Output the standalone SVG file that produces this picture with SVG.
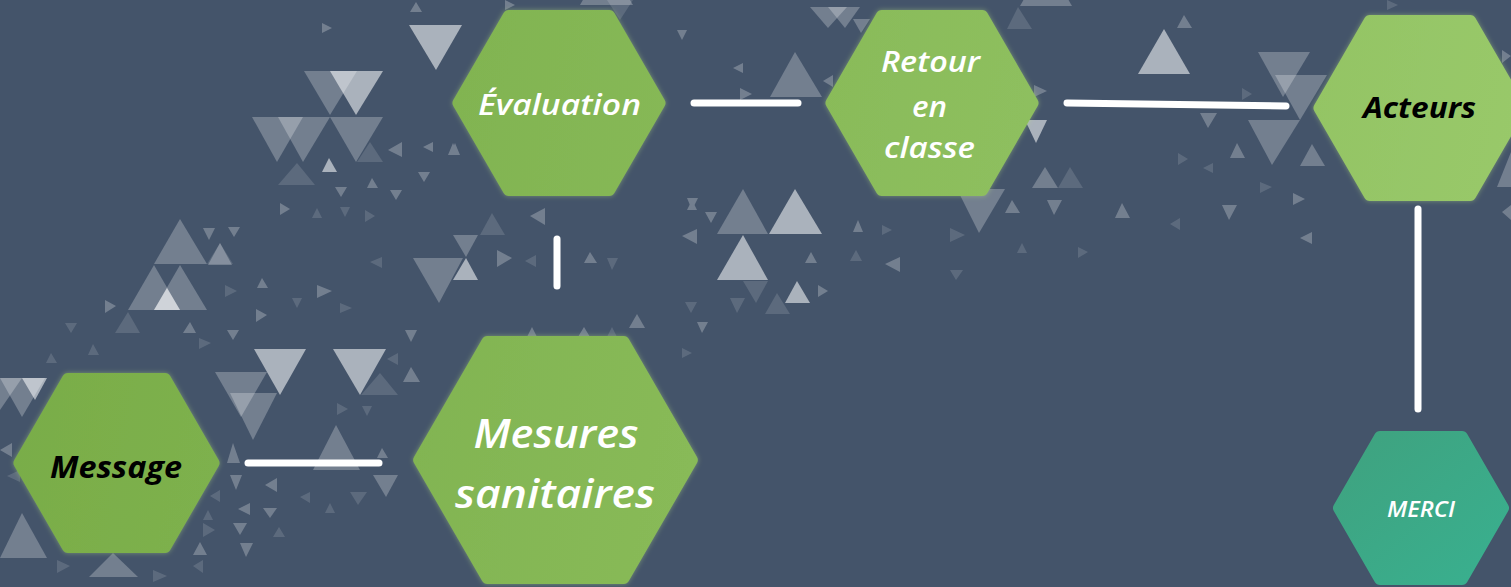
<svg xmlns="http://www.w3.org/2000/svg" width="1511" height="587" viewBox="0 0 1511 587">
<defs>
<linearGradient id="gGreen" gradientUnits="userSpaceOnUse" x1="0" y1="0" x2="1511" y2="300">
<stop offset="0" stop-color="#77ab46"/>
<stop offset="1" stop-color="#99c96a"/>
</linearGradient>
<linearGradient id="gTeal" x1="0" y1="0" x2="1" y2="1">
<stop offset="0" stop-color="#3fa27f"/>
<stop offset="1" stop-color="#39b08f"/>
</linearGradient>
<filter id="glow" x="-10%" y="-10%" width="120%" height="120%">
<feGaussianBlur in="SourceAlpha" stdDeviation="2.5" result="b"/>
<feFlood flood-color="#b6e07f" flood-opacity="0.45"/>
<feComposite operator="in" in2="b" result="g"/>
<feMerge><feMergeNode in="g"/><feMergeNode in="SourceGraphic"/></feMerge>
</filter>
<style>
.t1{fill:#fff;opacity:.55}
.t2{fill:#fff;opacity:.25}
.t3{fill:#fff;opacity:.13}
.hex{fill:url(#gGreen);stroke:url(#gGreen);stroke-width:12;stroke-linejoin:round;filter:url(#glow)}
.hexT{fill:url(#gTeal);stroke:url(#gTeal);stroke-width:12;stroke-linejoin:round}
.lbl{font-family:"Open Sans","Noto Sans","Liberation Sans",sans-serif;font-style:italic;text-anchor:middle}
.w{fill:#fff;font-weight:600}
.k{fill:#000;font-weight:700}
.con line{stroke:#fff;stroke-width:7;stroke-linecap:round}
</style>
</defs>
<rect width="1511" height="587" fill="#44546a"/>
<g id="decor">
<polygon class="t1" points="409,25 462,25 436,70"/>
<polygon class="t1" points="330,71 383,71 356,115"/>
<polygon class="t1" points="254,349 306,349 280,395"/>
<polygon class="t1" points="333,349 386,349 360,395"/>
<polygon class="t1" points="1138,74 1190,74 1164,29"/>
<polygon class="t1" points="769,234 822,234 795,189"/>
<polygon class="t1" points="717,280 768,280 743,235"/>
<polygon class="t1" points="785,303 810,303 797,281"/>
<polygon class="t1" points="453,280 478,280 466,258"/>
<polygon class="t2" points="1275,75 1327,75 1300,120"/>
<polygon class="t1" points="154,310 180,310 167,288"/>
<polygon class="t1" points="1025,120 1047,120 1036,143"/>
<polygon class="t1" points="22,378 47,378 35,400"/>
<polygon class="t2" points="304,71 357,71 330,115"/>
<polygon class="t2" points="252,117 303,117 277,162"/>
<polygon class="t2" points="278,117 330,117 303,162"/>
<polygon class="t2" points="330,117 383,117 356,162"/>
<polygon class="t2" points="154,264 207,264 180,219"/>
<polygon class="t2" points="128,310 180,310 154,265"/>
<polygon class="t2" points="154,310 207,310 180,265"/>
<polygon class="t2" points="413,258 463,258 439,303"/>
<polygon class="t2" points="453,235 478,235 466,257"/>
<polygon class="t2" points="717,234 768,234 743,189"/>
<polygon class="t2" points="770,97 822,97 795,52"/>
<polygon class="t2" points="1258,52 1310,52 1283,97"/>
<polygon class="t2" points="1248,120 1300,120 1272,165"/>
<polygon class="t2" points="957,189 1005,189 979,233"/>
<polygon class="t2" points="1032,188 1058,188 1045,167"/>
<polygon class="t2" points="215,372 267,372 241,417"/>
<polygon class="t2" points="230,393 277,393 253,440"/>
<polygon class="t2" points="313,470 360,470 336,425"/>
<polygon class="t2" points="0,558 47,558 22,513"/>
<polygon class="t2" points="89,577 138,577 113,553"/>
<polygon class="t2" points="0,378 45,378 22,417"/>
<polygon class="t2" points="-20,378 22,378 0,410"/>
<polygon class="t2" points="810,7 847,7 828,28"/>
<polygon class="t2" points="828,7 860,7 845,28"/>
<polygon class="t2" points="1300,166 1325,166 1312,144"/>
<polygon class="t2" points="373,475 398,475 386,497"/>
<polygon class="t1" points="322,172 337,172 329,158"/>
<polygon class="t2" points="1497,187 1511,187 1511,152"/>
<polygon class="t2" points="1020,6 1072,6 1046,-39"/>
<polygon class="t2" points="580,5 633,5 606,-40"/>
<polygon class="t3" points="207,264 233,264 220,243"/>
<polygon class="t3" points="115,333 140,333 128,312"/>
<polygon class="t3" points="278,185 315,185 297,163"/>
<polygon class="t3" points="357,162 383,162 370,142"/>
<polygon class="t3" points="480,235 505,235 492,213"/>
<polygon class="t3" points="743,281 768,281 756,303"/>
<polygon class="t3" points="765,314 790,314 777,293"/>
<polygon class="t3" points="1007,29 1032,29 1018,7"/>
<polygon class="t3" points="1058,188 1083,188 1070,167"/>
<polygon class="t3" points="361,395 398,395 380,373"/>
<polygon class="t3" points="350,492 367,492 358,505"/>
<polygon class="t3" points="607,0 633,0 620,20"/>
<g class="t2">
<polygon points="410,12 422,12 416,2"/>
<polygon points="322,23 322,33 332,28"/>
<polygon points="402,142 402,157 388,150"/>
<polygon points="433,142 433,152 423,147"/>
<polygon points="448,155 458,155 453,143"/>
<polygon points="418,172 430,172 424,182"/>
<polygon points="335,187 347,187 341,197"/>
<polygon points="367,188 378,188 372,178"/>
<polygon points="390,190 402,190 396,200"/>
<polygon points="280,203 280,215 290,209"/>
<polygon points="203,228 215,228 209,240"/>
<polygon points="228,227 240,227 234,237"/>
<polygon points="208,265 232,265 220,243"/>
<polygon points="257,288 268,288 262,278"/>
<polygon points="317,285 317,298 332,291"/>
<polygon points="105,300 105,313 116,306"/>
<polygon points="183,333 196,333 190,322"/>
<polygon points="227,330 239,330 233,340"/>
<polygon points="256,309 256,322 267,315"/>
<polygon points="405,330 417,330 411,342"/>
<polygon points="403,382 420,382 411,367"/>
<polygon points="377,458 388,458 382,448"/>
<polygon points="227,463 240,463 233,443"/>
<polygon points="230,475 242,475 236,490"/>
<polygon points="277,478 277,492 265,485"/>
<polygon points="250,503 250,515 238,509"/>
<polygon points="263,508 277,508 270,518"/>
<polygon points="233,523 247,523 240,535"/>
<polygon points="193,555 207,555 200,542"/>
<polygon points="240,543 253,543 246,557"/>
<polygon points="12,443 12,457 0,450"/>
<polygon points="527,337 537,337 532,327"/>
<polygon points="578,337 590,337 584,327"/>
<polygon points="629,328 645,328 637,314"/>
<polygon points="697,322 708,322 702,333"/>
<polygon points="545,208 545,225 530,216"/>
<polygon points="497,250 497,267 512,258"/>
<polygon points="584,263 597,263 590,252"/>
<polygon points="687,198 698,198 692,210"/>
<polygon points="705,212 717,212 711,223"/>
<polygon points="697,229 697,244 682,236"/>
<polygon points="805,263 817,263 811,252"/>
<polygon points="853,232 863,232 858,220"/>
<polygon points="900,257 900,272 885,264"/>
<polygon points="818,285 818,297 828,291"/>
<polygon points="1177,28 1192,28 1184,15"/>
<polygon points="1034,85 1034,97 1047,91"/>
<polygon points="1200,113 1217,113 1208,128"/>
<polygon points="1230,158 1245,158 1237,143"/>
<polygon points="1005,213 1020,213 1012,200"/>
<polygon points="1047,200 1062,200 1054,215"/>
<polygon points="1115,218 1130,218 1122,203"/>
<polygon points="1222,205 1237,205 1229,220"/>
<polygon points="1293,193 1293,205 1305,199"/>
<polygon points="1511,205 1511,220 1502,212"/>
<polygon points="1502,50 1502,63 1511,56"/>
<polygon points="505,0 505,10 515,5"/>
<polygon points="677,30 687,30 682,40"/>
<polygon points="687,210 697,210 692,200"/>
<polygon points="743,63 743,73 733,68"/>
<polygon points="833,75 833,87 823,81"/>
<polygon points="740,88 740,100 752,94"/>
<polygon points="853,19 870,19 861,33"/>
<polygon points="450,155 460,155 455,143"/>
<polygon points="1312,232 1312,244 1300,238"/>
</g>
<g class="t3">
<polygon points="312,218 322,218 317,208"/>
<polygon points="340,207 350,207 345,217"/>
<polygon points="365,210 365,222 375,216"/>
<polygon points="382,257 382,268 370,262"/>
<polygon points="225,285 225,297 237,291"/>
<polygon points="292,298 302,298 297,308"/>
<polygon points="340,303 340,313 352,308"/>
<polygon points="65,323 77,323 71,333"/>
<polygon points="88,355 99,355 93,344"/>
<polygon points="46,363 57,363 51,353"/>
<polygon points="199,338 199,349 211,343"/>
<polygon points="398,353 398,365 387,359"/>
<polygon points="337,403 337,415 348,409"/>
<polygon points="362,406 372,406 367,416"/>
<polygon points="220,490 220,502 210,496"/>
<polygon points="310,492 310,503 300,497"/>
<polygon points="325,513 335,513 330,503"/>
<polygon points="203,520 213,520 208,510"/>
<polygon points="203,523 203,537 215,530"/>
<polygon points="273,537 285,537 279,527"/>
<polygon points="57,560 57,573 70,566"/>
<polygon points="203,560 203,573 193,566"/>
<polygon points="153,570 153,582 167,576"/>
<polygon points="20,470 20,482 7,476"/>
<polygon points="607,337 617,337 612,327"/>
<polygon points="682,348 682,358 692,353"/>
<polygon points="536,255 536,267 525,261"/>
<polygon points="607,258 618,258 612,270"/>
<polygon points="882,225 882,235 892,230"/>
<polygon points="850,261 862,261 856,250"/>
<polygon points="685,302 697,302 691,313"/>
<polygon points="730,298 745,298 737,313"/>
<polygon points="1242,88 1242,100 1252,94"/>
<polygon points="1178,153 1178,165 1188,159"/>
<polygon points="1213,163 1213,173 1203,168"/>
<polygon points="1260,182 1260,193 1272,187"/>
<polygon points="950,228 950,242 965,235"/>
<polygon points="1017,253 1027,253 1022,243"/>
<polygon points="1078,247 1078,258 1088,252"/>
<polygon points="1180,218 1180,230 1170,224"/>
<polygon points="1387,0 1387,10 1398,5"/>
<polygon points="950,270 963,270 956,280"/>
</g>
</g>
<g class="con" id="connectors">
<line x1="248" y1="463" x2="379" y2="463"/>
<line x1="557" y1="239" x2="557" y2="286"/>
<line x1="694" y1="103" x2="798" y2="103"/>
<line x1="1067" y1="103" x2="1286" y2="106"/>
<line x1="1418" y1="209" x2="1418" y2="409"/>
</g>
<g id="node-message">
<polygon class="hex" points="19.5,463 68,379 165,379 213.5,463 165,547 68,547"/>
<text class="lbl k" x="116" y="478" font-size="30" textLength="132" lengthAdjust="spacingAndGlyphs">Message</text>
</g>
<g id="node-mesures">
<polygon class="hex" points="419.2,460 487.4,342 623.6,342 691.8,460 623.6,578 487.4,578"/>
<text class="lbl w" x="556" y="448" font-size="40" textLength="165" lengthAdjust="spacingAndGlyphs">Mesures</text>
<text class="lbl w" x="555" y="508" font-size="40" textLength="200" lengthAdjust="spacingAndGlyphs">sanitaires</text>
</g>
<g id="node-evaluation">
<polygon class="hex" points="458.5,103 508.8,16 609.2,16 659.5,103 609.2,190 508.8,190"/>
<text class="lbl w" x="559.5" y="115" font-size="28" textLength="163" lengthAdjust="spacingAndGlyphs">Évaluation</text>
</g>
<g id="node-retour">
<polygon class="hex" points="831.5,103 881.8,16 982.2,16 1032.5,103 982.2,190 881.8,190"/>
<text class="lbl w" x="930.5" y="72" font-size="28" textLength="99" lengthAdjust="spacingAndGlyphs">Retour</text>
<text class="lbl w" x="929.5" y="117" font-size="28" textLength="35" lengthAdjust="spacingAndGlyphs">en</text>
<text class="lbl w" x="929.5" y="158" font-size="28" textLength="91" lengthAdjust="spacingAndGlyphs">classe</text>
</g>
<g id="node-acteurs">
<polygon class="hex" points="1319.5,108 1369.8,21 1470.2,21 1520.5,108 1470.2,195 1369.8,195"/>
<text class="lbl k" x="1419.5" y="118" font-size="28" textLength="113" lengthAdjust="spacingAndGlyphs">Acteurs</text>
</g>
<g id="node-merci">
<polygon class="hexT" points="1339,508 1380,437 1462,437 1503,508 1462,579 1380,579"/>
<text class="lbl w" x="1421" y="517" font-size="21" textLength="68" lengthAdjust="spacingAndGlyphs">MERCI</text>
</g>
</svg>
